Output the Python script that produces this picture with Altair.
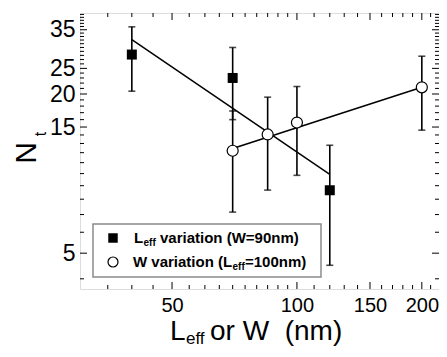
import altair as alt
import pandas as pd

# ---- data ----
leff_x = [40, 70, 120]
leff_nt = [28.2, 23.0, 8.65]
leff_err = [7.7, 7.0, 4.15]

w_x = [70, 85, 100, 200]
w_nt = [12.2, 14.06, 15.6, 21.2]
w_err = [5.05, 5.4, 5.75, 6.6]

fit_leff_x = [40, 120]
fit_leff_nt = [32.1, 9.93]
fit_w_x = [70, 200]
fit_w_nt = [12.45, 21.2]

x_labels = [50, 100, 150, 200]
y_labels = [5, 15, 20, 25, 35]
x_minor = [35, 40, 45, 55, 60, 65, 70, 75, 80, 85, 90, 95,
           110, 120, 130, 140, 160, 170, 180, 190, 210]
y_minor = [4, 6, 7, 8, 9, 10, 11, 12, 13, 14, 16, 17, 18, 19, 21, 22, 23, 24,
           26, 27, 28, 29, 30, 31, 32, 33, 34, 36, 37, 38, 39, 40]

W, H = 359, 276
FONT = "Liberation Sans"

xs = alt.Scale(type="log", domain=[30, 220], nice=False)
ys = alt.Scale(type="log", domain=[3.66, 40.5], nice=False)

df_l = pd.DataFrame({"x": leff_x, "nt": leff_nt, "err": leff_err})
df_l["lo"] = df_l["nt"] - df_l["err"]
df_l["hi"] = df_l["nt"] + df_l["err"]
df_w = pd.DataFrame({"x": w_x, "nt": w_nt, "err": w_err})
df_w["lo"] = df_w["nt"] - df_w["err"]
df_w["hi"] = df_w["nt"] + df_w["err"]
df_all = pd.concat([df_l, df_w], ignore_index=True)

xaxis = alt.Axis(values=x_labels, ticks=False, domain=False, grid=False,
                 labelFontSize=20, labelFont=FONT, labelColor="black",
                 labelPadding=6, labelFlush=False, title=None, labelOverlap=False)
yaxis = alt.Axis(values=y_labels, ticks=False, domain=False, grid=False,
                 labelFontSize=23, labelFont=FONT, labelColor="black",
                 labelPadding=5, labelFlush=False, title=None, labelOverlap=False)

base = alt.Chart(df_all)
err = base.mark_rule(color="black", strokeWidth=1.6).encode(
    x=alt.X("x:Q", scale=xs, axis=xaxis),
    y=alt.Y("lo:Q", scale=ys, axis=yaxis),
    y2="hi:Q",
)
cap_lo = base.mark_tick(orient="horizontal", size=7, thickness=1.6, color="black").encode(
    x=alt.X("x:Q", scale=xs), y=alt.Y("lo:Q", scale=ys))
cap_hi = base.mark_tick(orient="horizontal", size=7, thickness=1.6, color="black").encode(
    x=alt.X("x:Q", scale=xs), y=alt.Y("hi:Q", scale=ys))

fit_l = alt.Chart(pd.DataFrame({"x": fit_leff_x, "nt": fit_leff_nt})).mark_line(
    color="black", strokeWidth=1.5).encode(x=alt.X("x:Q", scale=xs), y=alt.Y("nt:Q", scale=ys))
fit_w = alt.Chart(pd.DataFrame({"x": fit_w_x, "nt": fit_w_nt})).mark_line(
    color="black", strokeWidth=1.5).encode(x=alt.X("x:Q", scale=xs), y=alt.Y("nt:Q", scale=ys))

sq = alt.Chart(df_l).mark_square(size=100, color="black", opacity=1).encode(
    x=alt.X("x:Q", scale=xs), y=alt.Y("nt:Q", scale=ys))
ci = alt.Chart(df_w).mark_point(shape="circle", filled=True, fill="white", stroke="black",
                                strokeWidth=1.2, size=121, opacity=1).encode(
    x=alt.X("x:Q", scale=xs), y=alt.Y("nt:Q", scale=ys))

# ---- inward ticks on all four sides ----
def xticks(vals, length):
    d = alt.Chart(pd.DataFrame({"v": vals}))
    b = d.mark_rule(color="black", strokeWidth=1).encode(
        x=alt.X("v:Q", scale=xs), y=alt.value(H), y2=alt.value(H - length))
    t = d.mark_rule(color="black", strokeWidth=1).encode(
        x=alt.X("v:Q", scale=xs), y=alt.value(0), y2=alt.value(length))
    return [b, t]

def yticks(vals, length):
    d = alt.Chart(pd.DataFrame({"v": vals}))
    l = d.mark_rule(color="black", strokeWidth=1).encode(
        y=alt.Y("v:Q", scale=ys), x=alt.value(0), x2=alt.value(length))
    r = d.mark_rule(color="black", strokeWidth=1).encode(
        y=alt.Y("v:Q", scale=ys), x=alt.value(W), x2=alt.value(W - length))
    return [l, r]

ticks = xticks(x_labels, 7) + xticks(x_minor, 4) + yticks(y_labels, 7) + yticks(y_minor, 4)

one = pd.DataFrame({"a": [0]})

def txt(s, x, y, size, bold=False, angle=0, align="left", baseline="alphabetic"):
    kw = dict(text=s, fontSize=size, font=FONT, color="black", align=align, baseline=baseline)
    if bold:
        kw["fontWeight"] = "bold"
    if angle:
        kw["angle"] = angle
    return alt.Chart(one).mark_text(**kw).encode(x=alt.value(x), y=alt.value(y))

# axis titles
titles = [
    txt("L", 90, 327, 28),
    txt("eff", 106, 331, 17),
    txt("or W\u00a0\u00a0(nm)", 130, 327, 28),
    txt("N", -53, 140, 30, angle=270, align="center", baseline="middle"),
    txt("t", -39, 121, 16, angle=270, align="center", baseline="middle"),
]

# legend
legend_box = alt.Chart(one).mark_rect(fill="white", stroke="#8a8a8a", strokeWidth=1.5).encode(
    x=alt.value(13), x2=alt.value(241), y=alt.value(211), y2=alt.value(264))
leg_sq = alt.Chart(one).mark_square(size=90, color="black", opacity=1).encode(
    x=alt.value(33), y=alt.value(225))
leg_ci = alt.Chart(one).mark_point(shape="circle", filled=True, fill="white", stroke="black",
                                   strokeWidth=1.2, size=100, opacity=1).encode(
    x=alt.value(33), y=alt.value(249))
legend = [
    legend_box, leg_sq, leg_ci,
    txt("L", 54, 230, 15, bold=True),
    txt("eff", 63.5, 233, 10, bold=True),
    txt("variation (W=90nm)", 80, 230, 15, bold=True),
    txt("W variation (L", 53, 254, 15, bold=True),
    txt("eff", 152.5, 257, 10, bold=True),
    txt("=100nm)", 165, 254, 15, bold=True),
]

chart = alt.layer(err, cap_lo, cap_hi, fit_l, fit_w, *ticks, sq, ci, *titles, *legend).properties(
    width=W, height=H,
    autosize=alt.AutoSizeParams(type="none"),
    padding={"left": 72, "top": 5, "right": 0, "bottom": 59},
).configure_view(stroke="black", strokeWidth=2).configure(background="white")

chart.save("out.html", embed_options={"renderer": "svg", "actions": False})
